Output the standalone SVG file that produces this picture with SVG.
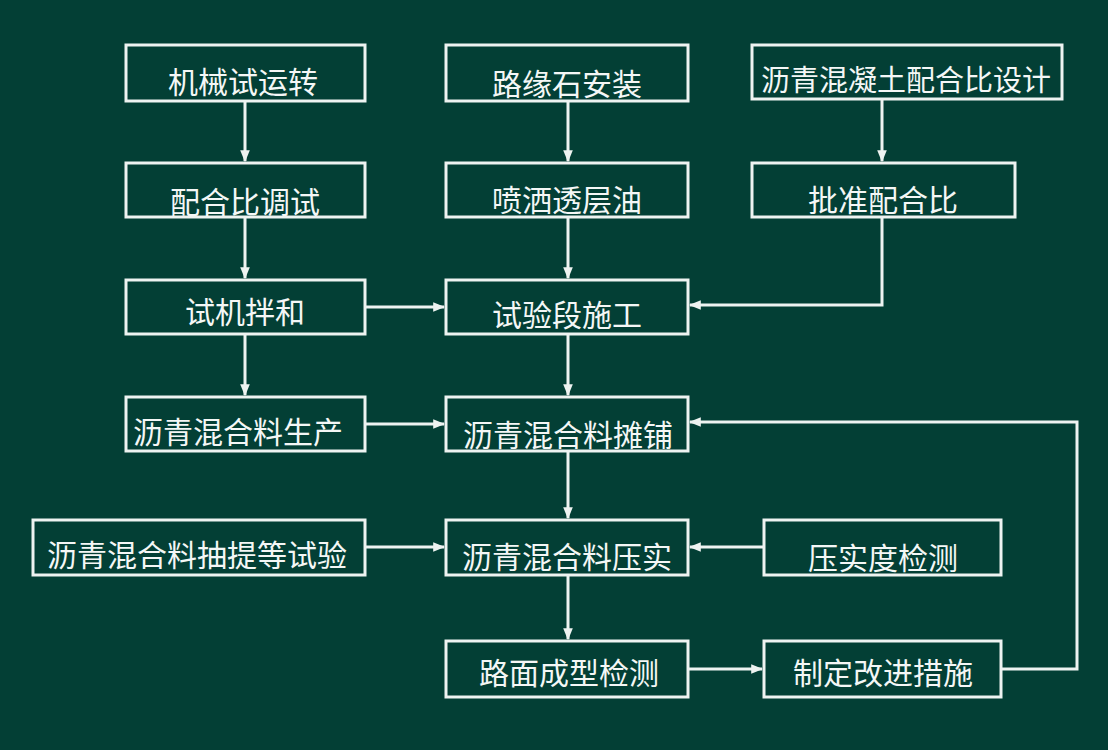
<svg xmlns="http://www.w3.org/2000/svg" width="1108" height="750" viewBox="0 0 1108 750">
<style>
.box{fill:none;stroke:#eef3f1;stroke-width:3}
.t{fill:#f4f7f6;font-family:"Noto Sans CJK SC","Noto Sans",sans-serif;font-size:30px;text-anchor:middle}
.c{fill:none;stroke:#eef3f1;stroke-width:3}
</style>
<defs>
<marker id="a" viewBox="0 0 10 10" refX="9" refY="5" markerWidth="4" markerHeight="4" orient="auto" markerUnits="strokeWidth">
<path d="M0,1 L10,5 L0,9 z" fill="#eef3f1"/>
</marker>
</defs>
<rect width="1108" height="750" fill="#033f35"/>
<g id="connectors">
<path class="c" d="M245,101 V161" marker-end="url(#a)"/>
<path class="c" d="M245,217 V278" marker-end="url(#a)"/>
<path class="c" d="M245,334 V395" marker-end="url(#a)"/>
<path class="c" d="M568,101 V161" marker-end="url(#a)"/>
<path class="c" d="M568,217 V278" marker-end="url(#a)"/>
<path class="c" d="M568,334 V395" marker-end="url(#a)"/>
<path class="c" d="M568,451 V518" marker-end="url(#a)"/>
<path class="c" d="M568,575 V639" marker-end="url(#a)"/>
<path class="c" d="M882,99 V161" marker-end="url(#a)"/>
<path class="c" d="M882,217 V305 H690" marker-end="url(#a)"/>
<path class="c" d="M365,307 H444" marker-end="url(#a)"/>
<path class="c" d="M365,424 H444" marker-end="url(#a)"/>
<path class="c" d="M365,547 H444" marker-end="url(#a)"/>
<path class="c" d="M764,547 H690" marker-end="url(#a)"/>
<path class="c" d="M688,669 H762" marker-end="url(#a)"/>
<path class="c" d="M1001,669 H1077 V422 H690" marker-end="url(#a)"/>
</g>
<g id="n1"><rect class="box" x="126" y="45" width="239" height="56"/><text class="t" x="243" y="93">机械试运转</text></g>
<g id="n2"><rect class="box" x="126" y="163" width="239" height="54"/><text class="t" x="245" y="213">配合比调试</text></g>
<g id="n3"><rect class="box" x="126" y="280" width="239" height="54"/><text class="t" x="245" y="323">试机拌和</text></g>
<g id="n4"><rect class="box" x="126" y="397" width="239" height="54"/><text class="t" x="238" y="443">沥青混合料生产</text></g>
<g id="n5"><rect class="box" x="446" y="45" width="242" height="56"/><text class="t" x="567" y="95">路缘石安装</text></g>
<g id="n6"><rect class="box" x="446" y="163" width="242" height="54"/><text class="t" x="567" y="211">喷洒透层油</text></g>
<g id="n7"><rect class="box" x="446" y="280" width="242" height="54"/><text class="t" x="567" y="326">试验段施工</text></g>
<g id="n8"><rect class="box" x="446" y="397" width="242" height="54"/><text class="t" x="568" y="446">沥青混合料摊铺</text></g>
<g id="n9"><rect class="box" x="446" y="520" width="242" height="55"/><text class="t" x="567" y="568">沥青混合料压实</text></g>
<g id="n10"><rect class="box" x="446" y="641" width="242" height="56"/><text class="t" x="569" y="684">路面成型检测</text></g>
<g id="n11"><rect class="box" x="752" y="45" width="310" height="54"/><text class="t" x="906" y="91" style="font-size:29px">沥青混凝土配合比设计</text></g>
<g id="n12"><rect class="box" x="752" y="163" width="263" height="54"/><text class="t" x="883" y="211">批准配合比</text></g>
<g id="n13"><rect class="box" x="764" y="520" width="237" height="55"/><text class="t" x="883" y="569">压实度检测</text></g>
<g id="n14"><rect class="box" x="764" y="641" width="237" height="56"/><text class="t" x="883" y="684">制定改进措施</text></g>
<g id="n15"><rect class="box" x="33" y="520" width="332" height="55"/><text class="t" x="197" y="566">沥青混合料抽提等试验</text></g>
</svg>
